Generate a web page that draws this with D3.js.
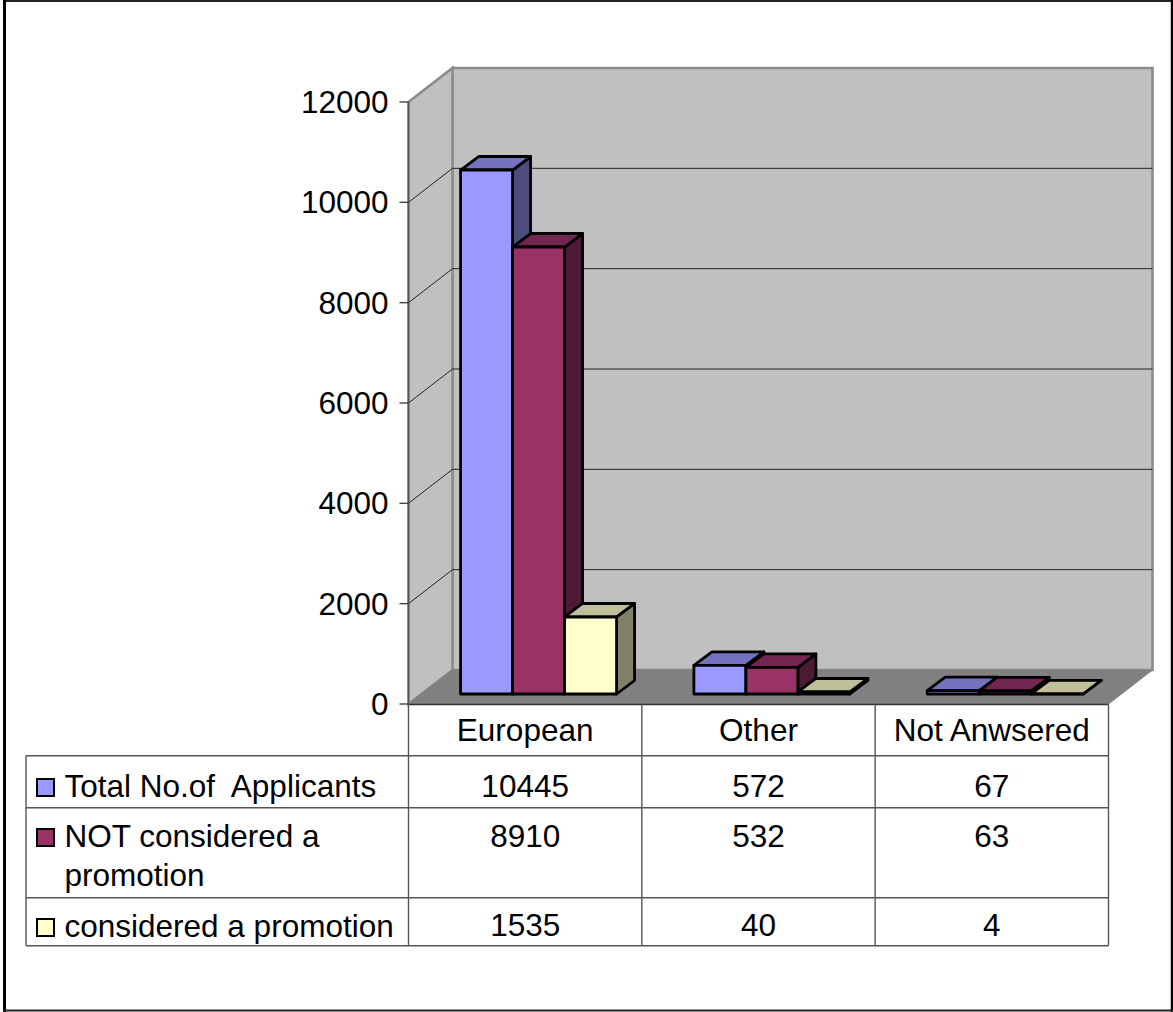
<!DOCTYPE html>
<html><head><meta charset="utf-8">
<script src="https://cdn.jsdelivr.net/npm/d3@7"></script>
<style>html,body{margin:0;padding:0;background:#fff}svg{display:block}text{font-family:"Liberation Sans",Arial,sans-serif;fill:#000}</style>
</head><body><svg id="c" width="1173" height="1012"></svg>
<script>
const categories = ["European", "Other", "Not Anwsered"];
const seriesNames = ["Total No.of  Applicants", "NOT considered a promotion", "considered a promotion"];
const totalApplicants = [10445, 572, 67];
const notPromotion = [8910, 532, 63];
const promotion = [1535, 40, 4];
const seriesValues = [totalApplicants, notPromotion, promotion];
const yTicks = [0, 2000, 4000, 6000, 8000, 10000, 12000];
const fills = ["#9999ff", "#993366", "#ffffcc"];
const tops = ["#7373bf", "#732650", "#bfbf99"];
const sides = ["#4d4d80", "#4d1a33", "#808066"];

const svg = d3.select("#c");
const y = d3.scaleLinear().domain([0, 12000]).range([704, 102]);
const x = d3.scaleBand().domain(categories).range([408.5, 1108.5]);
const bx = d3.scaleBand().domain([0, 1, 2]).range([0, 156]);
const wallDX = 44, wallDY = -34, barOffX = 13.4, barOffY = -10, barDX = 18, barDY = -13.5;
const FS = 31.5;
const poly = (pts, attrs) => { const p = svg.append("polygon").attr("points", pts.map(d => d.join(",")).join(" ")); Object.entries(attrs).forEach(([k, v]) => p.attr(k, v)); return p; };
const line = (x1, y1, x2, y2, stroke, w) => svg.append("line").attr("x1", x1).attr("y1", y1).attr("x2", x2).attr("y2", y2).attr("stroke", stroke).attr("stroke-width", w);

// outer frame
line(3, 1, 1173, 1, "#222", 2);
line(4.5, 0, 4.5, 1012, "#000", 3);
line(1172, 0, 1172, 1012, "#000", 2.4);
line(3, 1010.5, 1173, 1010.5, "#222", 2);

const [x0, x1] = x.range(), y0 = y(0), yT = y(12000);
// walls and floor
poly([[x0 + wallDX, yT + wallDY], [x1 + wallDX, yT + wallDY], [x1 + wallDX, y0 + wallDY], [x0 + wallDX, y0 + wallDY]], {fill: "#c0c0c0", stroke: "#8c8c8c", "stroke-width": 2.6});
poly([[x0, yT], [x0 + wallDX, yT + wallDY], [x0 + wallDX, y0 + wallDY], [x0, y0]], {fill: "#c0c0c0", stroke: "#8c8c8c", "stroke-width": 2.6});
poly([[x0, y0], [x0 + wallDX, y0 + wallDY], [x1 + wallDX, y0 + wallDY], [x1, y0]], {fill: "#808080", stroke: "#808080", "stroke-width": 1});
// gridlines
yTicks.slice(1, -1).forEach(t => {
  svg.append("polyline").attr("fill", "none").attr("stroke", "#222").attr("stroke-width", 1)
    .attr("points", `${x0},${y(t)} ${x0 + wallDX},${y(t) + wallDY} ${x1 + wallDX},${y(t) + wallDY}`);
});
// y axis
line(x0, yT, x0, y0, "#555", 1.5);
yTicks.forEach(t => {
  line(x0 - 9, y(t), x0, y(t), "#444", 1.4);
  svg.append("text").attr("x", 388.5).attr("y", y(t) + 11).attr("text-anchor", "end").attr("font-size", FS).text(t);
});
// bars
categories.forEach((c, ci) => {
  const gap = (x.bandwidth() - 156) / 2;
  [0, 1, 2].forEach(si => {
    const v = seriesValues[si][ci];
    const l = x(c) + gap + barOffX + bx(si), r = l + bx.bandwidth();
    const b = y(0) + barOffY, t = y(v) + barOffY;
    const st = {stroke: "#000", "stroke-width": 2.8, "stroke-linejoin": "round"};
    poly([[r, t], [r + barDX, t + barDY], [r + barDX, b + barDY], [r, b]], {fill: sides[si], ...st});
    poly([[l, t], [l + barDX, t + barDY], [r + barDX, t + barDY], [r, t]], {fill: tops[si], ...st});
    poly([[l, t], [r, t], [r, b], [l, b]], {fill: fills[si], ...st});
  });
});
// data table
const rowY = [704.5, 755.7, 807.7, 897.7, 945.7];
const tableLeft = 26, tc = "#555";
rowY.slice(1).forEach(ry => line(tableLeft, ry, x1, ry, tc, 1.4));
line(x0, rowY[0], x1, rowY[0], "#333", 1.6);
line(tableLeft, rowY[1], tableLeft, rowY[4], tc, 1.4);
[x0, x(categories[1]), x(categories[2]), x1].forEach(v => line(v, rowY[0], v, rowY[4], tc, 1.4));
categories.forEach(c => svg.append("text").attr("x", x(c) + x.bandwidth() / 2).attr("y", 741).attr("text-anchor", "middle").attr("font-size", FS).text(c));
const labelLines = [[seriesNames[0]], ["NOT considered a", "promotion"], [seriesNames[2]]];
const labelBase = [[797], [847, 886], [937]];
const valueBase = [797, 847, 936];
seriesNames.forEach((n, si) => {
  svg.append("rect").attr("x", 37).attr("y", labelBase[si][0] - 18).attr("width", 17).attr("height", 17).attr("fill", fills[si]).attr("stroke", "#000").attr("stroke-width", 2);
  labelLines[si].forEach((ln, li) => svg.append("text").attr("x", 64.5).attr("y", labelBase[si][li]).attr("font-size", FS).attr("xml:space", "preserve").style("white-space", "pre").text(ln));
  categories.forEach((c, ci) => svg.append("text").attr("x", x(c) + x.bandwidth() / 2).attr("y", valueBase[si]).attr("text-anchor", "middle").attr("font-size", FS).text(seriesValues[si][ci]));
});
</script></body></html>
